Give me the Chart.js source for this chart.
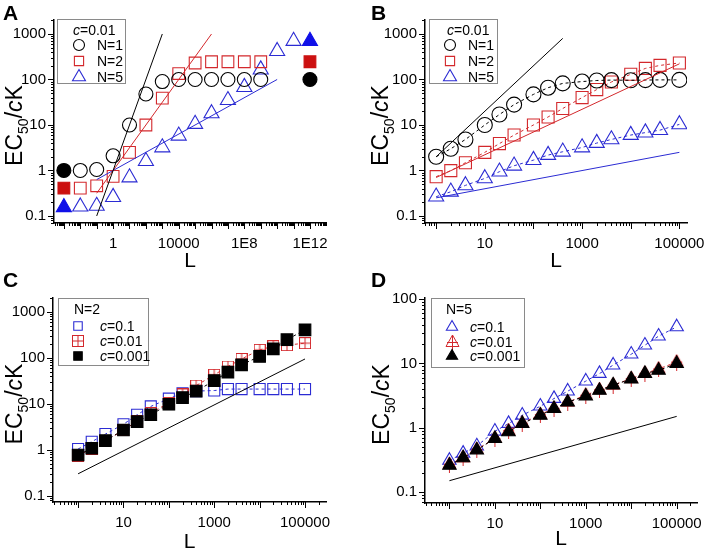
<!DOCTYPE html>
<html>
<head>
<meta charset="utf-8">
<script src="https://cdn.jsdelivr.net/npm/chart.js"></script>
<style>
  body { margin: 0; background: #fff; }
  #wrap { position: relative; width: 717px; height: 551px; font-family: "Liberation Sans", Arial, sans-serif; }
  #wrap canvas { position: absolute; }
  .tag { position: absolute; font-weight: bold; font-size: 21px; line-height: 21px; }
</style>
</head>
<body>
<div id="wrap">
  <canvas id="cA" width="358" height="275" style="left:0;top:0"></canvas>
  <canvas id="cB" width="359" height="275" style="left:358px;top:0"></canvas>
  <canvas id="cC" width="358" height="276" style="left:0;top:275px"></canvas>
  <canvas id="cD" width="359" height="276" style="left:358px;top:275px"></canvas>
  <div class="tag" style="left:3px;top:2px">A</div>
  <div class="tag" style="left:371px;top:2px">B</div>
  <div class="tag" style="left:3px;top:269px">C</div>
  <div class="tag" style="left:371px;top:269px">D</div>
</div>
<script>
const FONT = '"Liberation Sans", Arial, sans-serif';
const RED = '#d3282c';
const BLUE = '#2b2bd3';
const RED_FILL = '#cc1010';
const BLUE_FILL = '#1010e8';

// --- Panel A : c = 0.01 ---
const L_A = [1e-2, 0.1, 1, 10, 100, 1e3, 1e4, 1e5, 1e6, 1e7, 1e8, 1e9, 1e10, 1e11];
const A_N1 = [1, 1.05, 2.1, 10, 48, 90, 100, 100, 100, 100, 100, 100];
const A_N2 = [0.41, 0.46, 0.74, 2.5, 10, 39, 135, 230, 245, 245, 245, 245];
const A_N5 = [0.16, 0.166, 0.26, 0.7, 1.6, 3.2, 5.8, 10.5, 18, 35, 68, 165, 420, 700];
// filled symbols: limiting values at L -> 0 and L -> infinity
const L_A_lim = [1e-3, 1e12];
const A_N1_lim = [1, 100];
const A_N2_lim = [0.41, 245];
const A_N5_lim = [0.155, 700];
// straight guide lines (end points)
const A_fit1_L = [0.1, 1000],  A_fit1_y = [0.1, 1000];
const A_fit2_L = [0.1, 1e6],   A_fit2_y = [0.316, 1000];
const A_fit5_L = [0.1, 1e10],  A_fit5_y = [0.63, 100];

// --- Panels B, C, D share the L grid ---
const L_BCD = [1, 2, 4, 10, 20, 40, 100, 200, 400, 1e3, 2e3, 4e3, 1e4, 2e4, 4e4, 1e5];

// B : c = 0.01
const B_N1 = [2, 3, 4.8, 10, 17, 28, 47, 66, 82, 90, 95, 97, 96, 97, 98, 98];
const B_N2 = [0.73, 0.99, 1.48, 2.5, 3.9, 6.0, 10, 15, 23, 40, 60, 88, 130, 175, 204, 231];
const B_N5 = [0.265, 0.34, 0.47, 0.67, 0.94, 1.27, 1.69, 2.18, 2.58, 3.2, 4.0, 4.8, 6.0, 6.8, 7.7, 10.3];
const B_fit1_L = [1, 400],  B_fit1_y = [2, 800];
const B_fit2_L = [1, 1e5],  B_fit2_y = [0.7, 221];
const B_fit5_L = [1, 1e5],  B_fit5_y = [0.25, 2.5];

// C : N = 2
const C_c1 = [1.04, 1.5, 2.2, 3.6, 5.8, 8.8, 13, 17, 19, 19.5, 21, 21, 21, 21, 21, 21];
const C_c01 = [0.75, 1.05, 1.55, 2.7, 4.2, 6.3, 10.5, 16, 25, 43, 65, 95, 150, 180, 190, 210];
const C_c001 = [0.77, 1.08, 1.58, 2.7, 4.1, 5.8, 9.8, 13.7, 19, 32, 49, 71, 108, 158, 250, 410];
const C_fit_L = [1, 1e5], C_fit_y = [0.3, 95];

// D : N = 5
const D_c1 = [0.31, 0.4, 0.52, 0.88, 1.16, 1.56, 2.16, 2.84, 3.7, 5.3, 6.95, 9.4, 13.9, 19.2, 26.5, 37];
const D_c01 = [0.27, 0.34, 0.46, 0.68, 0.9, 1.18, 1.6, 2.0, 2.5, 3.2, 3.9, 4.6, 5.8, 7.0, 8.2, 10.5];
const D_c001 = [0.26, 0.34, 0.45, 0.68, 0.86, 1.16, 1.56, 1.98, 2.5, 3.1, 3.8, 4.6, 5.7, 6.95, 7.8, 9.95];
const D_fit_L = [1, 1e5], D_fit_y = [0.15, 1.5];

// tick labels
const A_xTicks = [1, 1e4, 1e8, 1e12];
const A_xText = ['1', '10000', '1E8', '1E12'];
const BCD_xTicks = [10, 1000, 100000];
const BCD_xText = ['10', '1000', '100000'];
const yTicks = [0.1, 1, 10, 100, 1000];
const yText = ['0.1', '1', '10', '100', '1000'];
const D_yTicks = [0.1, 1, 10, 100];
const D_yText = ['0.1', '1', '10', '100'];

// ---------------------------------------------------------------

function pts(xs, ys) { return ys.map((y, i) => ({ x: xs[i], y: y })); }

// red square with a cross inside (panel C, c=0.01)
function crossSquare(color) {
  const c = document.createElement('canvas');
  c.width = 12; c.height = 12;
  const g = c.getContext('2d');
  g.strokeStyle = color; g.lineWidth = 1;
  g.strokeRect(0.5, 0.5, 11, 11);
  g.beginPath();
  g.moveTo(6, 0.5); g.lineTo(6, 11.5);
  g.moveTo(0.5, 6); g.lineTo(11.5, 6);
  g.stroke();
  return c;
}
// red triangle with a plus (panel D, c=0.01)
function crossTriangle(color) {
  const c = document.createElement('canvas');
  c.width = 15; c.height = 17;
  const g = c.getContext('2d');
  g.strokeStyle = color; g.lineWidth = 1;
  g.beginPath();
  g.moveTo(7.5, 1); g.lineTo(14, 12.5); g.lineTo(1, 12.5); g.closePath();
  g.moveTo(7.5, 1); g.lineTo(7.5, 17);
  g.moveTo(2, 8.5); g.lineTo(13, 8.5);
  g.stroke();
  return c;
}
const sqCross = crossSquare(RED);
const triCross = crossTriangle(RED);

function logTicks(min, max) {
  const out = [];
  for (let e = Math.floor(Math.log10(min)); e <= Math.ceil(Math.log10(max)); e++) {
    for (let k = 1; k <= 9; k++) {
      const v = k * Math.pow(10, e);
      if (v >= min && v <= max) out.push({ value: v, major: k === 1 });
    }
  }
  return out;
}

function logScale(axis, min, max, labVals, labText, size, pad) {
  return {
    type: 'logarithmic', axis: axis, position: axis === 'x' ? 'bottom' : 'left',
    min: min, max: max,
    grid: { display: false, drawTicks: false },
    border: { display: true, color: '#000', width: 1.5 },
    ticks: {
      autoSkip: false, maxRotation: 0, minRotation: 0, padding: pad, color: '#000',
      font: { family: FONT, size: 15 },
      callback: function (v) {
        const i = labVals.findIndex(l => Math.abs(Math.log10(l) - Math.log10(v)) < 1e-6);
        return i < 0 ? '' : labText[i];
      }
    },
    afterBuildTicks: s => { s.ticks = logTicks(min, max); },
    afterFit: s => { if (axis === 'x') s.height = size; else s.width = size; }
  };
}

function marks(label, xs, ys, style, r, color, fill, dashed) {
  return {
    label: label, data: pts(xs, ys), pointStyle: style, pointRadius: r,
    borderColor: color, backgroundColor: fill || 'rgba(0,0,0,0)', pointBorderWidth: 1.1,
    borderWidth: 1, showLine: !!dashed, borderDash: [3, 3]
  };
}
function guide(xs, ys, color) {
  return { data: pts(xs, ys), showLine: true, pointRadius: 0, borderColor: color, borderWidth: 1, order: -1 };
}

function drawMarker(ctx, style, r, x, y, fill, stroke) {
  if (style instanceof HTMLCanvasElement) {
    ctx.drawImage(style, Math.round(x - style.width / 2), Math.round(y - style.height / 2));
    return;
  }
  ctx.beginPath();
  if (style === 'circle') ctx.arc(x, y, r, 0, Math.PI * 2);
  else if (style === 'rect') { const s = r * Math.SQRT1_2; ctx.rect(x - s, y - s, 2 * s, 2 * s); }
  else {
    const a = 2 * Math.PI / 3;
    ctx.moveTo(x, y - r);
    ctx.lineTo(x + r * Math.sin(a), y - r * Math.cos(a));
    ctx.lineTo(x - r * Math.sin(a), y - r * Math.cos(a));
    ctx.closePath();
  }
  ctx.fillStyle = fill; ctx.fill();
  ctx.strokeStyle = stroke; ctx.lineWidth = 1.1; ctx.stroke();
}

// draws text pieces [text, italic, size, dy] one after another
function drawPieces(ctx, pieces, x, y) {
  pieces.forEach(p => {
    ctx.font = (p[1] ? 'italic ' : '') + p[2] + 'px ' + FONT;
    ctx.fillText(p[0], x, y + (p[3] || 0));
    x += ctx.measureText(p[0]).width;
  });
}
function piecesWidth(ctx, pieces) {
  let w = 0;
  pieces.forEach(p => { ctx.font = (p[1] ? 'italic ' : '') + p[2] + 'px ' + FONT; w += ctx.measureText(p[0]).width; });
  return w;
}

const yTitle = [['EC', false, 23], ['50', false, 14, 6], ['/', false, 23], ['c', true, 23], ['K', false, 23]];

const decor = {
  id: 'decor',
  afterDraw(chart, args, o) {
    const ctx = chart.ctx, ca = chart.chartArea;
    ctx.save();
    // tick marks, outward
    ctx.strokeStyle = '#000'; ctx.lineWidth = 1;
    ['x', 'y'].forEach(id => {
      const s = chart.scales[id];
      s.ticks.forEach(t => {
        const len = t.major ? 6 : 3;
        const p = Math.round(s.getPixelForValue(t.value)) + 0.5;
        ctx.beginPath();
        if (id === 'x') { ctx.moveTo(p, ca.bottom); ctx.lineTo(p, ca.bottom + len); }
        else { ctx.moveTo(ca.left, p); ctx.lineTo(ca.left - len, p); }
        ctx.stroke();
      });
    });
    ctx.fillStyle = '#000';
    ctx.textBaseline = 'alphabetic';
    // x title
    ctx.font = '21px ' + FONT;
    ctx.textAlign = 'center';
    ctx.fillText('L', (ca.left + ca.right) / 2, o.xTitleY + 7.5);
    // y title, rotated
    ctx.textAlign = 'left';
    const w = piecesWidth(ctx, yTitle);
    ctx.save();
    ctx.translate(o.yTitleX + 8, (ca.top + ca.bottom) / 2 + 4);
    ctx.rotate(-Math.PI / 2);
    drawPieces(ctx, yTitle, -w / 2, 0);
    ctx.restore();
    // legend box
    const L = o.legend;
    ctx.strokeStyle = '#8a8a8a'; ctx.lineWidth = 1;
    ctx.fillStyle = '#fff';
    ctx.fillRect(L.box[0], L.box[1], L.box[2] - L.box[0], L.box[3] - L.box[1]);
    ctx.strokeRect(L.box[0] + 0.5, L.box[1] + 0.5, L.box[2] - L.box[0], L.box[3] - L.box[1]);
    ctx.fillStyle = '#000';
    drawPieces(ctx, L.title, L.titleX, L.titleY + 5);
    L.rows.forEach((r, i) => {
      const ds = chart.data.datasets[r[0]];
      drawMarker(ctx, ds.pointStyle, r[1], L.markX, L.rowY[i], ds.backgroundColor, ds.borderColor);
      ctx.fillStyle = '#000';
      drawPieces(ctx, r[2], L.textX, L.rowY[i] + 5);
    });
    ctx.restore();
  }
};

function makeChart(id, datasets, scales, pad, decorOpts) {
  new Chart(document.getElementById(id), {
    type: 'scatter',
    data: { datasets: datasets },
    options: {
      responsive: false, animation: false, devicePixelRatio: 1, events: [],
      layout: { padding: { top: pad[0], right: pad[1], left: 0, bottom: 0 } },
      scales: scales,
      plugins: { legend: { display: false }, tooltip: { enabled: false }, decor: decorOpts }
    },
    plugins: [decor]
  });
}

// ----- A -----
makeChart('cA', [
  marks('N=1', L_A, A_N1, 'circle', 7, '#000'),
  marks('N=2', L_A, A_N2, 'rect', 8.3, RED),
  marks('N=5', L_A, A_N5, 'triangle', 8.7, BLUE),
  marks('', L_A_lim, A_N1_lim, 'circle', 7, '#000', '#000'),
  marks('', L_A_lim, A_N2_lim, 'rect', 8.3, RED_FILL, RED_FILL),
  marks('', L_A_lim, A_N5_lim, 'triangle', 8.7, BLUE_FILL, BLUE_FILL),
  guide(A_fit1_L, A_fit1_y, '#000'),
  guide(A_fit2_L, A_fit2_y, RED),
  guide(A_fit5_L, A_fit5_y, BLUE)
], {
  x: logScale('x', 2.5e-4, 9.5e12, A_xTicks, A_xText, 52, 12),
  y: logScale('y', 0.07, 2030, yTicks, yText, 54, 8)
}, [20, 32], {
  xTitleY: 259, yTitleX: 14,
  legend: {
    box: [57, 19, 125, 83], titleX: 73, titleY: 30, markX: 79, textX: 97, rowY: [45, 61, 77],
    title: [['c', true, 14], ['=0.01', false, 14]],
    rows: [[0, 5.5, [['N=1', false, 14]]], [1, 6.5, [['N=2', false, 14]]], [2, 7.5, [['N=5', false, 14]]]]
  }
});

// ----- B -----
makeChart('cB', [
  marks('N=1', L_BCD, B_N1, 'circle', 7.5, '#000', null, true),
  marks('N=2', L_BCD, B_N2, 'rect', 8.5, RED, null, true),
  marks('N=5', L_BCD, B_N5, 'triangle', 8.7, BLUE, null, true),
  guide(B_fit1_L, B_fit1_y, '#000'),
  guide(B_fit2_L, B_fit2_y, RED),
  guide(B_fit5_L, B_fit5_y, BLUE)
], {
  x: logScale('x', 0.59, 1.44e5, BCD_xTicks, BCD_xText, 52, 12),
  y: logScale('y', 0.07, 2030, yTicks, yText, 67, 8)
}, [20, 20], {
  xTitleY: 259, yTitleX: 22,
  legend: {
    box: [71, 19, 139, 83], titleX: 89, titleY: 30, markX: 92, textX: 110, rowY: [45, 61, 77],
    title: [['c', true, 14], ['=0.01', false, 14]],
    rows: [[0, 5.5, [['N=1', false, 14]]], [1, 6.5, [['N=2', false, 14]]], [2, 7.5, [['N=5', false, 14]]]]
  }
});

// ----- C -----
const cBlue = marks('c=0.1', L_BCD, C_c1, 'rect', 7.8, BLUE, null, true);
const cRed = marks('c=0.01', L_BCD, C_c01, sqCross, 6, RED, null, true);
const cBlack = marks('c=0.001', L_BCD, C_c001, 'rect', 8.2, '#000', '#000', true);
cBlue.order = 3; cRed.order = 2; cBlack.order = 1;
makeChart('cC', [cBlue, cRed, cBlack, guide(C_fit_L, C_fit_y, '#000')], {
  x: logScale('x', 0.28, 2.9e5, BCD_xTicks, BCD_xText, 49, 12),
  y: logScale('y', 0.073, 2020, yTicks, yText, 53, 8)
}, [23, 32], {
  xTitleY: 265, yTitleX: 14,
  legend: {
    box: [58, 23, 148, 90], titleX: 74, titleY: 34, markX: 78, textX: 100, rowY: [51, 66, 81],
    title: [['N=2', false, 14]],
    rows: [[0, 6, [['c', true, 14], ['=0.1', false, 14]]],
           [1, 6, [['c', true, 14], ['=0.01', false, 14]]],
           [2, 6, [['c', true, 14], ['=0.001', false, 14]]]]
  }
});

// ----- D -----
const dBlue = marks('c=0.1', L_BCD, D_c1, 'triangle', 7.7, BLUE, null, true);
const dRed = marks('c=0.01', L_BCD, D_c01, triCross, 7, RED, null, true);
const dBlack = marks('c=0.001', L_BCD, D_c001, 'triangle', 7.7, '#000', '#000', true);
dBlue.order = 3; dRed.order = 2; dBlack.order = 1;
makeChart('cD', [dBlue, dRed, dBlack, guide(D_fit_L, D_fit_y, '#000')], {
  x: logScale('x', 0.29, 2.8e5, BCD_xTicks, BCD_xText, 48, 12),
  y: logScale('y', 0.0675, 104, D_yTicks, D_yText, 67, 8)
}, [23, 20], {
  xTitleY: 262, yTitleX: 23,
  legend: {
    box: [73, 23, 166, 92], titleX: 88, titleY: 34, markX: 94, textX: 112, rowY: [52, 67, 81],
    title: [['N=5', false, 14]],
    rows: [[0, 6.5, [['c', true, 14], ['=0.1', false, 14]]],
           [1, 6, [['c', true, 14], ['=0.01', false, 14]]],
           [2, 6.5, [['c', true, 14], ['=0.001', false, 14]]]]
  }
});
</script>
</body>
</html>
